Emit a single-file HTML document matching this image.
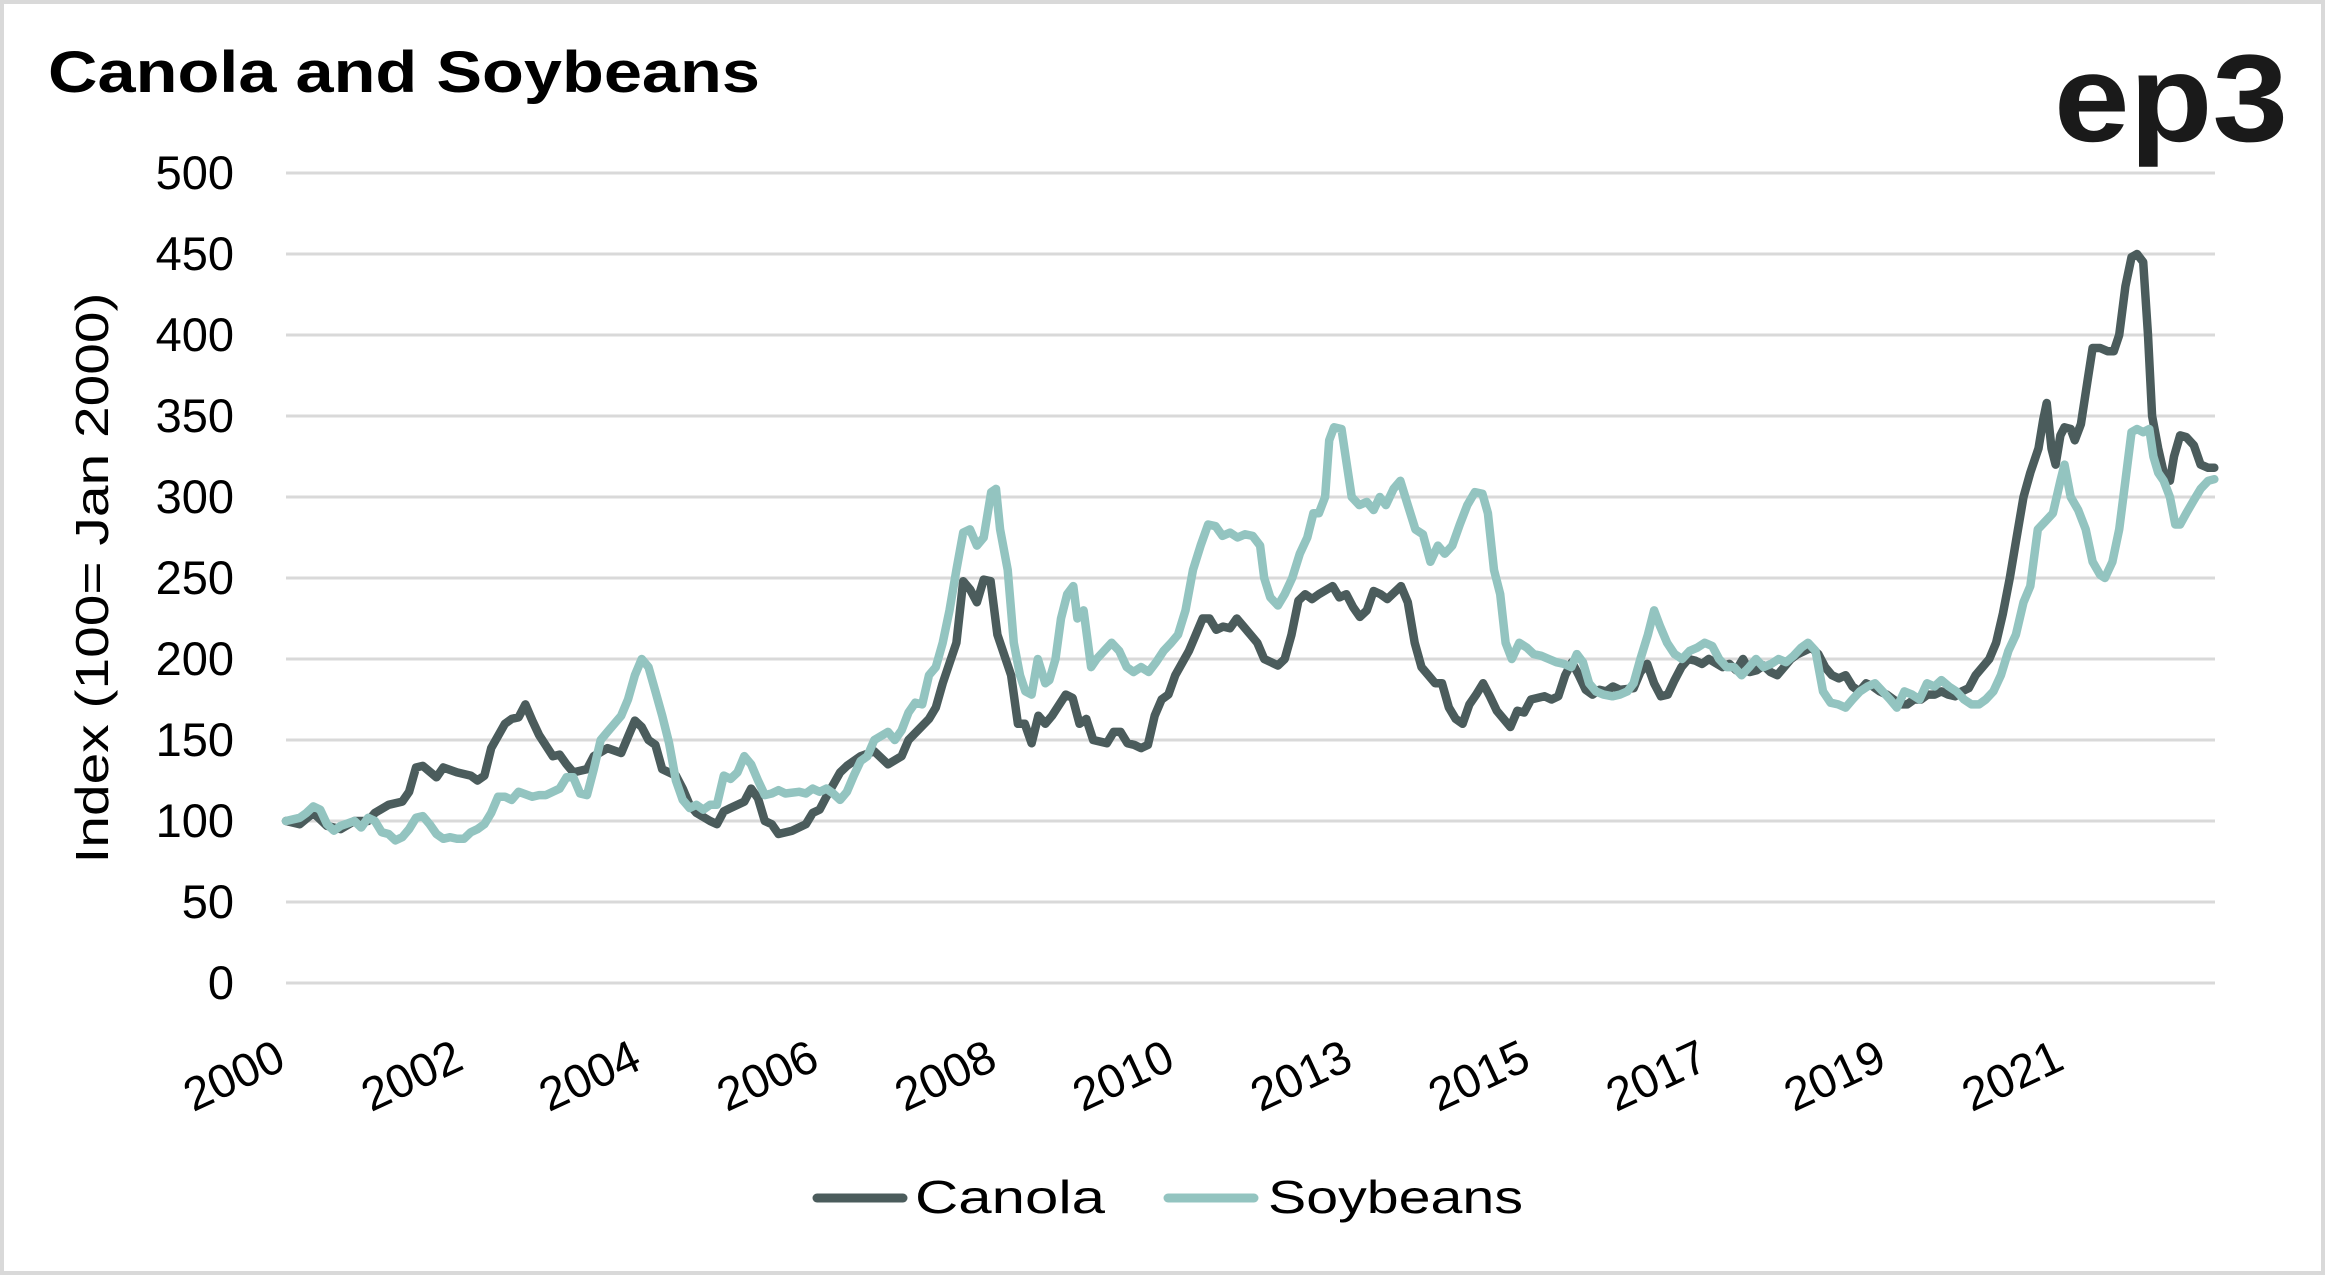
<!DOCTYPE html>
<html><head><meta charset="utf-8"><style>
html,body{margin:0;padding:0;background:#fff;}
svg{display:block;font-family:"Liberation Sans",sans-serif;}
</style></head><body>
<svg id="chart" width="2325" height="1275" viewBox="0 0 2325 1275" xmlns="http://www.w3.org/2000/svg">
<rect x="2" y="2" width="2321" height="1271" fill="#fff" stroke="#d9d9d9" stroke-width="4"/>
<text x="48" y="92" font-size="58" font-weight="bold" textLength="712" lengthAdjust="spacingAndGlyphs">Canola and Soybeans</text>
<text x="2054" y="141" font-size="124" font-weight="bold" fill="#1a1a1a" textLength="234" lengthAdjust="spacingAndGlyphs">ep3</text>
<g id="grid"></g>
<g id="yticks"></g>
<g id="xticks"></g>
<text transform="translate(108,578) rotate(-90)" text-anchor="middle" font-size="46" textLength="571" lengthAdjust="spacingAndGlyphs">Index (100= Jan 2000)</text>
<g id="series"></g>
<g>
<g>
<line x1="817" y1="1198" x2="903" y2="1198" stroke="#4b5c5c" stroke-width="9" stroke-linecap="round"/>
<text x="915" y="1213" font-size="46" textLength="190" lengthAdjust="spacingAndGlyphs">Canola</text></g>
<g>
<line x1="1168" y1="1198" x2="1254" y2="1198" stroke="#93c4c0" stroke-width="9" stroke-linecap="round"/>
<text x="1268" y="1213" font-size="46" textLength="255" lengthAdjust="spacingAndGlyphs">Soybeans</text></g>
</g>
</svg>
<script>
const yTicks=[0,50,100,150,200,250,300,350,400,450,500];
const xTickMonths=[0,26,52,78,104,130,156,182,208,234,260];
const xTickLabels=["2000","2002","2004","2006","2008","2010","2013","2015","2017","2019","2021"];
const canolaMonths=[0,2,4,6,8,10,12,13,15,17,18,19,20,22,23,25,27,28,29,30,32,33,34,35,36,37,39,40,41,42,44,45,47,49,50,51,52,53,54,55,57,58,59,60,62,63,64,65,67,68,69,70,71,72,74,76,77,78,79,81,82,84,86,88,90,91,94,95,96,98,99,100,101,102,103,104,106,107,108,109,110,111,112,114,115,116,117,118,120,121,122,123,124,125,126,127,128,129,130,132,133,134,135,136,137,138,139,140,141,142,143,145,146,147,148,149,150,151,153,154,155,156,157,158,159,160,161,163,164,165,166,167,168,169,170,171,172,173,174,175,176,177,179,180,181,182,184,185,186,187,188,189,190,191,192,193,194,195,197,198,199,200,201,202,203,204,205,206,207,208,210,211,212,213,214,215,216,217,218,219,220,221,223,224,225,226,227,228,229,230,231,232,233,234,236,237,238,239,240,241,242,243,244,245,246,247,249,250,251,252,253,254,255,256.2,256.9,257.4,258.1,258.7,259.4,260,260.9,261.5,262.4,263.3,264.1,265.2,266.3,267.2,268,268.9,269.8,270.6,271.5,272.2,272.8,273.7,274.5,275.4,276,276.9,277.8,278.9,279.9,281,281.9];
const canolaValues=[100,98,105,97,95,100,100,105,110,112,118,133,134,127,133,130,128,125,128,145,160,163,164,172,162,153,140,141,135,130,132,140,145,142,152,162,158,150,147,132,128,120,110,105,100,98,106,108,112,120,114,100,98,92,94,98,105,107,115,130,134,140,143,135,140,150,163,170,185,210,248,243,235,249,248,215,190,160,160,148,165,160,165,178,176,160,163,150,148,155,155,148,147,145,147,165,175,178,190,205,215,225,225,218,220,219,225,220,215,210,200,196,200,215,236,240,237,240,245,238,240,232,226,230,242,240,237,245,235,210,195,190,185,185,170,163,160,172,178,185,177,168,158,168,167,175,177,175,177,190,198,190,181,178,181,180,183,181,182,192,197,185,177,178,187,195,200,199,197,200,195,197,193,200,192,193,196,192,190,195,200,203,207,203,195,190,188,190,183,180,185,183,180,178,172,172,175,175,178,178,180,178,177,180,182,190,200,210,228,250,275,300,315,330,348,358,330,320,338,343,342,335,345,370,392,392,390,390,400,430,448,450,445,400,350,330,315,310,325,338,337,332,320,318,318];
const soyMonths=[0,2,3,4,5,6,7,8,10,11,12,13,14,15,16,17,18,19,20,21,22,23,24,25,26,27,28,29,30,31,32,33,34,36,37,38,39,40,41,42,43,44,45,46,47,49,50,51,52,53,54,55,56,57,58,59,60,61,62,63,64,65,66,67,68,69,70,71,72,73,75,76,77,78,79,80,81,82,83,84,85,86,88,89,90,91,92,93,94,95,96,97,98,99,100,101,102,103.1,103.8,104.4,105.5,106.4,107.3,108.1,109,109.9,111,111.6,112.5,113.3,114.2,115.1,115.7,116.6,117.7,118.5,119.6,120.7,121.8,122.9,123.9,125,126.1,127.2,128.3,129.4,130.4,131.5,132.6,133.7,134.8,135.9,136.9,138,139.1,140.2,141.3,142.4,143,143.9,145,146,147.1,148.2,149.3,150.2,151,151.9,152.5,153.2,154.3,154.9,155.8,156.9,158,159,159.9,160.8,161.9,162.9,164,165.1,166.2,167.3,168.4,169.4,170.5,171.6,172.7,173.8,174.9,175.7,176.6,177.5,178.3,179.2,180.3,181.4,182.4,183.5,184.6,185.7,186.8,187.9,188.7,189.6,190.5,191.5,192.6,193.9,195,196.1,197,198,199.1,200,200.9,201.9,203,204.1,205.2,206.3,207.4,208.5,209.5,210.6,211.7,212.8,213.9,214.9,216,217.1,218.2,219.3,220.4,221.5,222.5,223.6,224.7,225.8,226.9,228,229,230.1,231.2,232.3,233.4,234.5,235.5,236.6,237.7,238.8,239.9,241,242,243.1,244.2,245.3,246.4,247.5,248.5,249.6,250.7,251.8,252.9,254,255,256.1,257.2,258.3,259.4,260,260.9,262,263.1,264.1,265.2,265.9,267,268,268.9,269.8,270.6,271.5,272.4,273,273.7,274.5,275.4,276.2,276.9,277.8,278.9,279.9,281,281.9];
const soyValues=[100,102,105,109,107,98,94,97,100,96,102,100,93,92,88,90,95,102,103,98,92,89,90,89,89,93,95,98,105,115,115,113,118,115,116,116,118,120,127,127,117,116,132,150,155,165,175,190,200,195,180,165,148,125,113,108,110,107,110,110,128,126,130,140,135,125,116,117,119,117,118,117,120,118,120,117,113,118,128,137,140,150,155,150,156,167,173,172,190,195,210,230,255,278,280,270,275,303,305,280,255,210,190,180,178,200,185,187,200,225,240,245,225,230,195,200,205,210,205,195,192,195,192,198,205,210,215,230,255,270,283,282,276,278,275,277,276,270,250,238,233,240,250,265,275,290,290,300,335,343,342,325,300,295,297,292,300,295,305,310,295,280,277,260,270,265,270,283,295,303,302,290,255,240,210,200,210,207,203,202,200,198,197,195,203,198,185,180,178,177,178,180,185,200,215,230,220,210,203,200,205,207,210,208,200,195,195,190,195,200,195,197,200,198,202,207,210,205,180,173,172,170,175,180,183,185,180,175,170,180,178,175,185,183,187,183,180,175,172,172,175,180,190,205,215,235,245,280,285,290,310,320,300,292,280,260,252,250,260,280,310,340,342,340,342,325,315,310,300,283,283,290,298,305,310,311];

const NS="http://www.w3.org/2000/svg";
const X0=286,X1=2215,XMAX=282,Y0=983,Y1=173,YMAX=500;
function xs(m){return X0+(m/XMAX)*(X1-X0);}
function ys(v){return Y0-(v/YMAX)*(Y0-Y1);}
function mk(tag,attrs,parent){const e=document.createElementNS(NS,tag);for(const k in attrs)e.setAttribute(k,attrs[k]);parent.appendChild(e);return e;}
const grid=document.getElementById('grid'),yt=document.getElementById('yticks'),xt=document.getElementById('xticks'),ser=document.getElementById('series');
yTicks.forEach(v=>{
  const l=mk('line',{x1:X0,x2:X1,y1:ys(v),y2:ys(v),stroke:'#d9d9d9','stroke-width':3},grid);
  
  
  const t=mk('text',{x:234,y:ys(v)+16,'text-anchor':'end','font-size':47},yt);
  t.textContent=String(v);
  
  
});
xTickMonths.forEach((m,i)=>{
  const x=xs(m)+2,y=1068;
  const t=mk('text',{x:x,y:y,'text-anchor':'end','font-size':47,transform:'rotate(-25 '+x+' '+y+')'},xt);
  t.textContent=xTickLabels[i];
  
  
});
function path(ms,vs,color,name){
  const d=ms.map((m,i)=>(i?'L':'M')+xs(m).toFixed(1)+' '+ys(vs[i]).toFixed(1)).join(' ');
  const p=mk('path',{d:d,fill:'none',stroke:color,'stroke-width':8.5,'stroke-linejoin':'round','stroke-linecap':'round'},ser);
  
  
}
path(canolaMonths,canolaValues,'#4b5c5c','canola-line');
path(soyMonths,soyValues,'#93c4c0','soybeans-line');
</script>
</body></html>
